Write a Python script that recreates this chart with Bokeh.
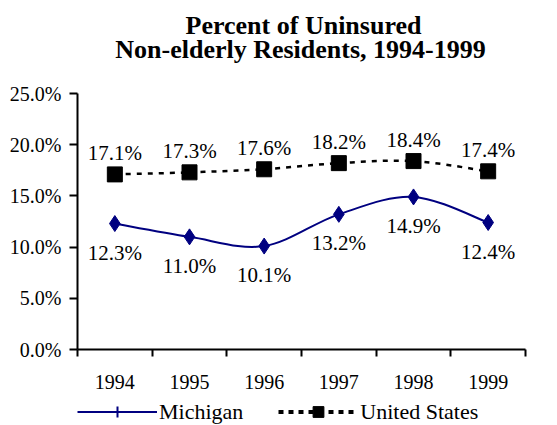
from bokeh.plotting import figure
from bokeh.layouts import column
from bokeh.models import (Range1d, FixedTicker, PrintfTickFormatter, Label, Legend,
                          LegendItem, ColumnDataSource, LabelSet)
from bokeh.embed import file_html
from bokeh.resources import INLINE

years = ["1994", "1995", "1996", "1997", "1998", "1999"]
michigan = [12.3, 11.0, 10.1, 13.2, 14.9, 12.4]
united_states = [17.1, 17.3, 17.6, 18.2, 18.4, 17.4]
y_ticks = [0, 5, 10, 15, 20, 25]
title_line1 = "Percent of Uninsured"
title_line2 = "Non-elderly Residents, 1994-1999"
series_names = ["Michigan", "United States"]

FONT = "Liberation Serif"
NAVY = "#000080"
W = 549

xs = [i + 0.5 for i in range(len(years))]


def bezier_segments(x, y):
    n = len(x)
    out = dict(x0=[], y0=[], x1=[], y1=[], cx0=[], cy0=[], cx1=[], cy1=[])
    for i in range(n - 1):
        xp, yp = (x[i - 1], y[i - 1]) if i > 0 else (x[i], y[i])
        xn, yn = (x[i + 2], y[i + 2]) if i + 2 < n else (x[i + 1], y[i + 1])
        out["x0"].append(x[i]); out["y0"].append(y[i])
        out["x1"].append(x[i + 1]); out["y1"].append(y[i + 1])
        out["cx0"].append(x[i] + (x[i + 1] - xp) / 6)
        out["cy0"].append(y[i] + (y[i + 1] - yp) / 6)
        out["cx1"].append(x[i + 1] - (xn - x[i]) / 6)
        out["cy1"].append(y[i + 1] - (yn - y[i]) / 6)
    return out


def blank_fig(h):
    f = figure(width=W, height=h, output_backend="svg", toolbar_location=None,
               x_axis_type=None, y_axis_type=None,
               x_range=Range1d(0, 1), y_range=Range1d(0, 1),
               min_border=0, min_border_left=0, min_border_right=0,
               min_border_top=0, min_border_bottom=0)
    f.grid.visible = False
    f.outline_line_color = None
    f.title = None
    return f


# ---------------- title strip (frame aligned with the chart frame) ----------------
TH = 75
tfig = blank_fig(TH)
for txt, cx, base in [(title_line1, 226, 25), (title_line2, 223, 49)]:
    tfig.add_layout(Label(x=cx, y=TH - base, x_units="screen", y_units="screen", text=txt,
                          text_align="center", text_baseline="alphabetic",
                          text_font=FONT, text_font_size="26px", text_font_style="bold",
                          text_color="black"))

# ---------------- main chart ----------------
p = figure(width=W, height=323, output_backend="svg", toolbar_location=None,
           x_range=Range1d(0, len(years)), y_range=Range1d(0, 25),
           min_border_left=77, min_border_right=24, min_border_top=18, min_border_bottom=49)
p.title = None
p.grid.visible = False
p.outline_line_color = None

xa = p.xaxis[0]
xa.ticker = FixedTicker(ticks=xs, minor_ticks=list(range(len(years) + 1)))
xa.major_label_overrides = {x: y for x, y in zip(xs, years)}
xa.major_tick_line_color = None
xa.minor_tick_line_color = "black"
xa.minor_tick_line_width = 2
xa.minor_tick_out = 7
xa.minor_tick_in = 0
xa.axis_line_width = 2
xa.axis_line_color = "black"
xa.major_label_text_font = FONT
xa.major_label_text_font_size = "20px"
xa.major_label_text_color = "black"
xa.major_label_standoff = 18

ya = p.yaxis[0]
ya.ticker = FixedTicker(ticks=y_ticks, minor_ticks=[])
ya.formatter = PrintfTickFormatter(format="%.1f%%")
ya.major_tick_line_width = 2
ya.major_tick_out = 8
ya.major_tick_in = 0
ya.axis_line_width = 2
ya.axis_line_color = "black"
ya.major_label_text_font = FONT
ya.major_label_text_font_size = "20px"
ya.major_label_text_color = "black"
ya.major_label_standoff = 8

p.bezier(source=ColumnDataSource(bezier_segments(xs, michigan)),
         x0="x0", y0="y0", x1="x1", y1="y1", cx0="cx0", cy0="cy0", cx1="cx1", cy1="cy1",
         line_color=NAVY, line_width=2)
p.bezier(source=ColumnDataSource(bezier_segments(xs, united_states)),
         x0="x0", y0="y0", x1="x1", y1="y1", cx0="cx0", cy0="cy0", cx1="cx1", cy1="cy1",
         line_color="black", line_width=2.5, line_dash="5 6")

src = ColumnDataSource(dict(
    x=xs, mi=michigan, us=united_states,
    mi_txt=[f"{v:.1f}%" for v in michigan],
    us_txt=[f"{v:.1f}%" for v in united_states]))

p.scatter("x", "mi", source=src, marker="diamond", size=16,
          fill_color=NAVY, line_color=NAVY)
p.scatter("x", "us", source=src, marker="square", size=15,
          fill_color="black", line_color="black")

p.add_layout(LabelSet(x="x", y="us", text="us_txt", source=src, x_offset=0, y_offset=9,
                      text_align="center", text_baseline="bottom",
                      text_font=FONT, text_font_size="21px", text_color="black"))
p.add_layout(LabelSet(x="x", y="mi", text="mi_txt", source=src, x_offset=0, y_offset=-17,
                      text_align="center", text_baseline="top",
                      text_font=FONT, text_font_size="21px", text_color="black"))

# ---------------- legend strip ----------------
LH = 27
lfig = blank_fig(LH)
leg_mi_line = lfig.line([0], [0], line_color=NAVY, line_width=2, visible=False)
leg_mi_mark = lfig.scatter([0], [0], marker="cross", size=12,
                           line_color=NAVY, line_width=2, visible=False)
leg_us_line = lfig.line([0], [0], line_color="black", line_width=4,
                        line_dash="5 5", visible=False)
leg_us_mark = lfig.scatter([0], [0], marker="square", size=14,
                           fill_color="black", line_color="black", visible=False)

legend = Legend(items=[LegendItem(label=series_names[0], renderers=[leg_mi_line, leg_mi_mark]),
                       LegendItem(label=series_names[1], renderers=[leg_us_line, leg_us_mark])],
                orientation="horizontal", location=(0, 0),
                label_text_font=FONT, label_text_font_size="22px", label_text_color="black",
                glyph_width=80, glyph_height=LH, label_standoff=2, spacing=35,
                border_line_color=None, background_fill_alpha=0,
                padding=0, margin=0)
lfig.add_layout(legend, "center")

layout = column(tfig, p, lfig, spacing=0)
open("out.html", "w").write(file_html(layout, INLINE))
